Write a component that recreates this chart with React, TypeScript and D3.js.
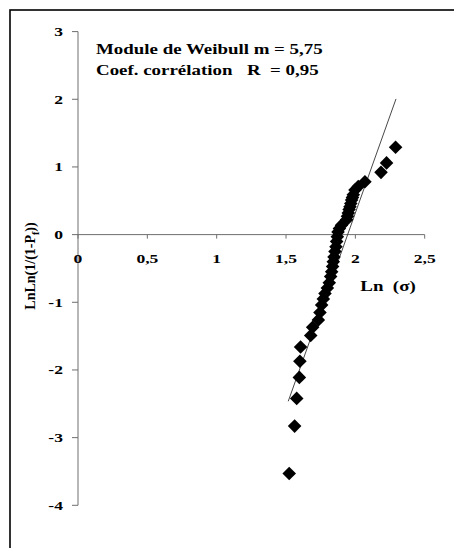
import { useEffect, useRef } from "react";
import * as d3 from "d3";

// Ln(sigma) and LnLn(1/(1-Pf))
const lnSigma = [
  1.523, 1.562, 1.577, 1.596, 1.6, 1.605, 1.678, 1.692, 1.733, 1.745, 1.757,
  1.769, 1.781, 1.798, 1.812, 1.822, 1.829, 1.836, 1.841, 1.846, 1.853, 1.86,
  1.865, 1.87, 1.875, 1.885, 1.9, 1.937, 1.943, 1.949, 1.955, 1.961, 1.967,
  1.973, 1.979, 1.985, 1.997, 2.021, 2.069, 2.185, 2.225, 2.29,
];
const lnLnP = [
  -3.53, -2.83, -2.42, -2.11, -1.87, -1.66, -1.49, -1.37, -1.26, -1.15, -1.04,
  -0.95, -0.87, -0.79, -0.71, -0.62, -0.55, -0.47, -0.4, -0.33, -0.25, -0.18,
  -0.1, -0.03, 0.04, 0.09, 0.14, 0.22, 0.27, 0.32, 0.37, 0.41, 0.46, 0.51,
  0.55, 0.59, 0.66, 0.71, 0.78, 0.92, 1.06, 1.29,
];

// regression line y = m*x + b
const fitSlope = 5.75;
const fitIntercept = -11.18;
const fitRange = [1.516, 2.293];

const xTicks = [0, 0.5, 1, 1.5, 2, 2.5];
const yTicks = [-4, -3, -2, -1, 0, 1, 2, 3];
const noteLine1 = "Module de Weibull m = 5,75";
const noteLine2 = ["Coef. corrélation", "R  = 0,95"];

const fmt = (v: number) => String(v).replace(".", ",");

export default function App() {
  const ref = useRef<SVGSVGElement>(null);

  useEffect(() => {
    const svg = d3.select(ref.current);
    svg.selectAll("*").remove();

    const x = d3.scaleLinear().domain([0, 2.5]).range([78, 424.7]);
    const y = d3.scaleLinear().domain([-4, 3]).range([505.3, 31.6]);
    const font = "'Liberation Serif', 'Times New Roman', serif";
    const axisColor = "#6e6e6e";
    const stretch = 1.35; // the original is widened horizontally

    const label = (
      parent: any,
      tx: number,
      ty: number,
      text: string,
      anchor = "start",
      size = 14
    ) =>
      parent
        .append("text")
        .attr("transform", `translate(${tx},${ty}) scale(${stretch},1)`)
        .attr("text-anchor", anchor)
        .attr("xml:space", "preserve")
        .style("white-space", "pre")
        .style("font-family", font)
        .style("font-weight", "bold")
        .style("font-size", `${size}px`)
        .text(text);

    // outer frame (only top/left visible)
    svg
      .append("rect")
      .attr("x", 10)
      .attr("y", 10)
      .attr("width", 470)
      .attr("height", 570)
      .attr("fill", "none")
      .attr("stroke", "#000")
      .attr("stroke-width", 1.6);

    const g = svg.append("g");

    // y axis
    g.append("line")
      .attr("x1", x(0))
      .attr("x2", x(0))
      .attr("y1", y(3))
      .attr("y2", y(-4))
      .attr("stroke", axisColor);
    g.selectAll("line.ytick")
      .data(yTicks)
      .join("line")
      .attr("class", "ytick")
      .attr("x1", x(0) - 6)
      .attr("x2", x(0))
      .attr("y1", (d) => y(d))
      .attr("y2", (d) => y(d))
      .attr("stroke", axisColor);
    yTicks.forEach((d) => label(g, 63, y(d) + 4.5, fmt(d), "end", 13));

    // x axis at y = 0
    g.append("line")
      .attr("x1", x(0))
      .attr("x2", x(2.5))
      .attr("y1", y(0))
      .attr("y2", y(0))
      .attr("stroke", axisColor);
    g.selectAll("line.xtick")
      .data(xTicks)
      .join("line")
      .attr("class", "xtick")
      .attr("x1", (d) => x(d))
      .attr("x2", (d) => x(d))
      .attr("y1", y(0))
      .attr("y2", y(0) + 4)
      .attr("stroke", axisColor);
    xTicks.forEach((d) => label(g, x(d), y(0) + 28, fmt(d), "middle", 13));

    // axis titles
    label(g, 388, 291, "Ln  (σ)", "middle", 14);

    const yt = g
      .append("text")
      .attr("transform", "translate(35,266) rotate(-90)")
      .attr("text-anchor", "middle")
      .style("font-family", font)
      .style("font-weight", "bold")
      .style("font-size", "14px");
    yt.append("tspan").text("LnLn(1/(1-P");
    yt.append("tspan").attr("dy", 4).style("font-size", "10px").text("f");
    yt.append("tspan").attr("dy", -4).text("))");

    // fit line
    g.append("line")
      .attr("x1", x(fitRange[0]))
      .attr("y1", y(fitSlope * fitRange[0] + fitIntercept))
      .attr("x2", x(fitRange[1]))
      .attr("y2", y(fitSlope * fitRange[1] + fitIntercept))
      .attr("stroke", "#333")
      .attr("stroke-width", 0.9);

    // diamonds
    const diamond = d3.symbol(d3.symbolSquare, 92);
    g.selectAll("path.pt")
      .data(lnSigma.map((v, i) => [v, lnLnP[i]]))
      .join("path")
      .attr("class", "pt")
      .attr("d", diamond)
      .attr("transform", (d) => `translate(${x(d[0])},${y(d[1])}) rotate(45)`)
      .attr("fill", "#000");

    // annotation
    label(g, 96, 54, noteLine1, "start", 14);
    label(g, 96, 75, noteLine2[0], "start", 14);
    label(g, 247, 75, noteLine2[1], "start", 14);
  }, []);

  return (
    <svg
      ref={ref}
      width={454}
      height={548}
      style={{ position: "absolute", left: 0, top: 0, background: "#fff" }}
    />
  );
}
